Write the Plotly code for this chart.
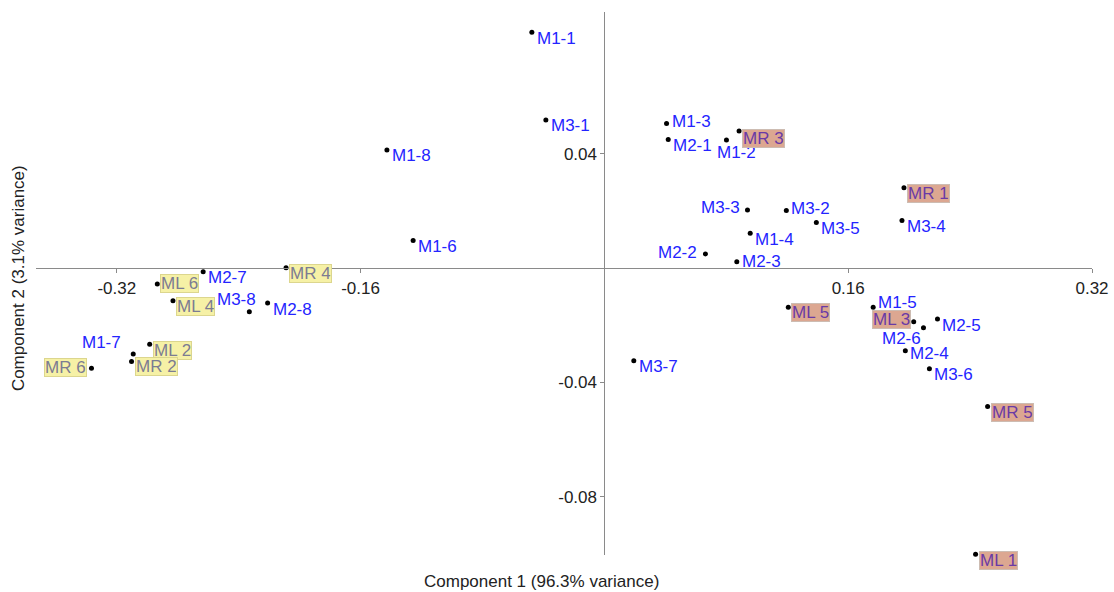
import plotly.graph_objects as go

# PCA scores: sample names and their component scores
samples = ["M1-1", "M3-1", "M1-8", "M1-6", "M1-3", "M2-1", "M1-2", "MR 3", "MR 1",
           "M3-3", "M3-2", "M3-5", "M3-4", "M1-4", "M2-2", "M2-3", "ML 5", "M1-5",
           "ML 3", "M2-6", "M2-5", "M2-4", "M3-6", "MR 5", "M3-7", "ML 1",
           "M2-7", "MR 4", "ML 6", "ML 4", "M3-8", "M2-8", "ML 2", "M1-7", "MR 2", "MR 6"]
comp1 = [-0.0476, -0.0384, -0.1427, -0.1255, 0.0408, 0.0419, 0.0801, 0.0884, 0.1966,
         0.0939, 0.1194, 0.1391, 0.1953, 0.0957, 0.0663, 0.0869, 0.1207, 0.1764,
         0.2030, 0.2094, 0.2186, 0.1975, 0.2133, 0.2515, 0.0193, 0.2436,
         -0.2633, -0.2089, -0.2934, -0.2831, -0.2330, -0.2210, -0.2984, -0.3092, -0.3103, -0.3366]
comp2 = [0.0826, 0.0519, 0.0414, 0.0097, 0.0507, 0.0451, 0.0449, 0.0480, 0.0282,
         0.0204, 0.0202, 0.0160, 0.0167, 0.0122, 0.0050, 0.0023, -0.0137, -0.0137,
         -0.0187, -0.0208, -0.0178, -0.0289, -0.0352, -0.0484, -0.0324, -0.1001,
         -0.0012, 0.0002, -0.0055, -0.0114, -0.0152, -0.0122, -0.0266, -0.0300, -0.0327, -0.0350]

# reference groups highlighted with a coloured label box
group_right = ["MR 1", "MR 3", "MR 5", "ML 1", "ML 3", "ML 5"]
group_left = ["MR 2", "MR 4", "MR 6", "ML 2", "ML 4", "ML 6"]

tick_x = [-0.32, -0.16, 0.16, 0.32]
tick_y = [-0.08, -0.04, 0.04]

x_range = [-0.373, 0.32]
y_range = [-0.1004, 0.0897]

# label placement: (xanchor, xshift, yshift)
place = {
    "M1-3": ("left", 3, 2), "M1-2": ("left", -11, -13), "M3-3": ("right", -5, 2),
    "M3-2": ("left", 3, 2), "M2-2": ("right", -6, 1), "M2-3": ("left", 3, 0),
    "M1-5": ("left", 3, 5), "ML 3": ("right", -3, 2), "M2-6": ("right", 0, -11),
    "M2-4": ("left", 3, -3), "ML 6": ("left", 3, 0), "M3-8": ("right", 9, 12),
    "M1-7": ("right", -10, 11), "MR 6": ("right", -4, 1), "ML 5": ("left", 3, -5),
    "MR 2": ("left", 3, -5), "MR 3": ("left", 3, -7),
}

FONT = "Liberation Sans, Arial, sans-serif"
AXIS = "#8a8a8a"
FS = 17

fig = go.Figure()
fig.add_trace(go.Scatter(
    x=comp1, y=comp2, mode="markers",
    marker=dict(size=5, color="black"),
    hoverinfo="text", text=samples, showlegend=False, cliponaxis=False,
))

annotations = []
for name, xv, yv in zip(samples, comp1, comp2):
    xa, xs, ys = place.get(name, ("left", 3, -6))
    ann = dict(x=xv, y=yv, xref="x", yref="y", text=name, showarrow=False,
               xanchor=xa, yanchor="middle", xshift=xs, yshift=ys,
               font=dict(family=FONT, size=FS, color="#2424ff"))
    if name in group_right:
        ann.update(bgcolor="#dca791", bordercolor="#cdbcb2", borderwidth=1, borderpad=0,
                   height=17, font=dict(family=FONT, size=FS, color="#6a3aa6"))
    elif name in group_left:
        ann.update(bgcolor="#f6f1a6", bordercolor="#dcd68e", borderwidth=1, borderpad=0,
                   height=17, font=dict(family=FONT, size=FS, color="#7c7c92"))
    annotations.append(ann)

# axis titles
annotations.append(dict(text="Component 1 (96.3% variance)", xref="paper", yref="paper",
                        x=0.479, y=-0.028, xanchor="center", yanchor="top", showarrow=False,
                        font=dict(family=FONT, size=FS, color="#222222")))
annotations.append(dict(text="Component 2 (3.1% variance)", xref="paper", yref="paper",
                        x=-0.017, y=0.51, xanchor="center", yanchor="middle", showarrow=False,
                        textangle=-90, font=dict(family=FONT, size=FS, color="#222222")))

x_pos = (0 - y_range[0]) / (y_range[1] - y_range[0])
y_pos = (0 - x_range[0]) / (x_range[1] - x_range[0])

fig.update_layout(
    width=1114, height=592,
    margin=dict(l=36, r=22, t=12, b=37),
    paper_bgcolor="white", plot_bgcolor="white",
    font=dict(family=FONT, size=FS, color="#222222"),
    xaxis=dict(range=x_range, anchor="free", position=x_pos, showline=True,
               linecolor=AXIS, linewidth=1, ticks="outside", ticklen=4, tickcolor=AXIS,
               tickvals=tick_x, ticktext=[f"{v:.2f}" for v in tick_x],
               showgrid=False, zeroline=False, automargin=False,
               tickfont=dict(family=FONT, size=FS, color="#222222")),
    yaxis=dict(range=y_range, anchor="free", position=y_pos, showline=True,
               linecolor=AXIS, linewidth=1, ticks="outside", ticklen=4, tickcolor=AXIS,
               tickvals=tick_y, ticktext=[f"{v:.2f}" for v in tick_y],
               showgrid=False, zeroline=False, automargin=False,
               tickfont=dict(family=FONT, size=FS, color="#222222")),
    annotations=annotations,
)

fig.write_html("out.html")
